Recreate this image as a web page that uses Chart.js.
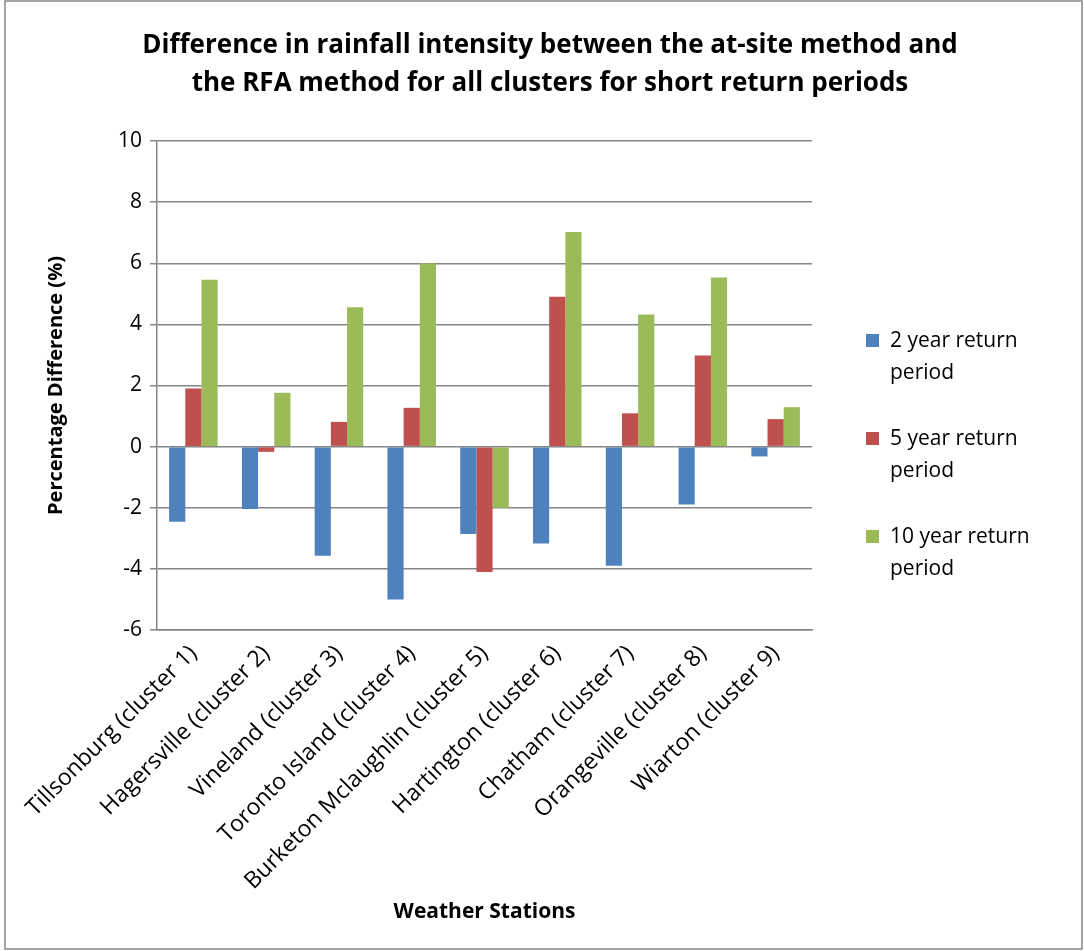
<!DOCTYPE html>
<html>
<head>
<meta charset="utf-8">
<script src="https://cdn.jsdelivr.net/npm/chart.js@4"></script>
<style>
  body { margin: 0; background: #fff; }
  #wrap { position: relative; width: 1084px; height: 951px; }
  #legend { position: absolute; left: 866px; top: 323px; font-family: "Open Sans", sans-serif; font-size: 21px; color: #000; }
  .item { position: relative; height: 98px; }
  .box { position: absolute; left: 0; top: 11px; width: 13px; height: 13px; }
  .txt { position: absolute; left: 24px; top: 0; line-height: 32px; width: 160px; }
</style>
</head>
<body>
<div id="wrap">
  <canvas id="chart" width="1084" height="951"></canvas>
  <div id="legend"></div>
</div>
<script>
const stations = [
  "Tillsonburg (cluster 1)", "Hagersville (cluster 2)", "Vineland (cluster 3)",
  "Toronto Island (cluster 4)", "Burketon Mclaughlin (cluster 5)", "Hartington (cluster 6)",
  "Chatham (cluster 7)", "Orangeville (cluster 8)", "Wiarton (cluster 9)"
];
const seriesNames = ["2 year return period", "5 year return period", "10 year return period"];
const twoYear = [-2.46, -2.04, -3.57, -5.0, -2.86, -3.17, -3.9, -1.89, -0.32];
const fiveYear = [1.9, -0.17, 0.81, 1.27, -4.1, 4.9, 1.09, 2.98, 0.9];
const tenYear = [5.46, 1.76, 4.56, 5.99, -2.0, 7.02, 4.32, 5.53, 1.29];
const colors = ["#4F81BD", "#C0504D", "#9BBB59"];
const titleLines = ["Difference in rainfall intensity between the at-site method and",
                    "the RFA method for all clusters for short return periods"];

const font = "'Open Sans', sans-serif";

// outer frame + title centred on the whole picture (as in the original)
const frame = {
  id: "frame",
  afterDraw(chart) {
    const c = chart.ctx;
    c.save();
    c.strokeStyle = "#868686";
    c.lineWidth = 1.5;
    c.strokeRect(5, 1, 1077, 948);
    c.fillStyle = "#000";
    c.font = "bold 26px " + font;
    c.textAlign = "center";
    c.textBaseline = "middle";
    titleLines.forEach((t, i) => c.fillText(t, 550, 46 + i * 38));
    c.restore();
  }
};

const chart = new Chart(document.getElementById("chart"), {
  type: "bar",
  data: {
    labels: stations,
    datasets: [twoYear, fiveYear, tenYear].map((d, i) => ({
      label: seriesNames[i],
      data: d,
      backgroundColor: colors[i],
      categoryPercentage: 0.667,
      barPercentage: 1.0
    }))
  },
  options: {
    responsive: false,
    animation: false,
    layout: { padding: { top: 141, right: 272, left: 20, bottom: 20 } },
    plugins: {
      legend: { display: false },
      tooltip: { enabled: false },
      title: { display: false }
    },
    scales: {
      x: {
        grid: { display: false },
        border: { color: "#868686", width: 1.5 },
        ticks: {
          color: "#000",
          font: { family: font, size: 23 },
          minRotation: 45, maxRotation: 45, padding: 2
        },
        title: {
          display: true,
          text: "Weather Stations",
          color: "#000",
          font: { family: font, size: 21, weight: "bold" },
          padding: { top: 0, bottom: 6 }
        },
        afterFit(scale) { scale.height = 301; }
      },
      y: {
        min: -6, max: 10,
        ticks: { stepSize: 2, color: "#000", font: { family: font, size: 21 }, padding: 8 },
        grid: { color: "#868686", lineWidth: 1.5, tickLength: 7 },
        border: { color: "#868686", width: 1.5 },
        title: {
          display: true,
          text: "Percentage Difference (%)",
          color: "#000",
          font: { family: font, size: 20, weight: "bold" },
          padding: { top: 24, bottom: 0 }
        },
        afterFit(scale) { scale.width = 137; }
      }
    }
  },
  plugins: [frame]
});

const legend = document.getElementById("legend");
seriesNames.forEach((name, i) => {
  const item = document.createElement("div");
  item.className = "item";
  item.innerHTML = '<div class="box" style="background:' + colors[i] + '"></div><div class="txt">' + name + "</div>";
  legend.appendChild(item);
});
</script>
</body>
</html>
